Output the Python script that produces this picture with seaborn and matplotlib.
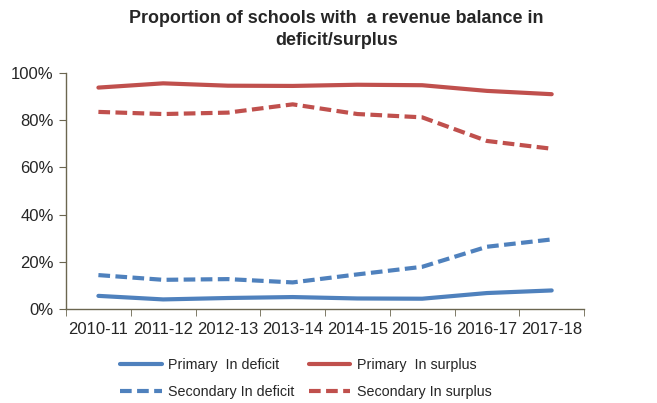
import pandas as pd
import matplotlib.pyplot as plt
import seaborn as sns

years = ["2010-11", "2011-12", "2012-13", "2013-14", "2014-15", "2015-16", "2016-17", "2017-18"]
primary_deficit = [5.6, 4.1, 4.7, 5.1, 4.5, 4.4, 6.8, 7.9]
primary_surplus = [93.8, 95.6, 94.6, 94.5, 95.0, 94.8, 92.4, 91.0]
secondary_deficit = [14.4, 12.4, 12.7, 11.3, 14.7, 17.9, 26.4, 29.5]
secondary_surplus = [83.5, 82.6, 83.2, 86.7, 82.6, 81.2, 71.2, 67.9]

series = {
    "Primary  In deficit": (primary_deficit, "#4F81BD", "solid"),
    "Primary  In surplus": (primary_surplus, "#C0504D", "solid"),
    "Secondary In deficit": (secondary_deficit, "#4F81BD", "dash"),
    "Secondary In surplus": (secondary_surplus, "#C0504D", "dash"),
}

sns.set_style("white")
plt.rcParams['font.family'] = ['Arial', 'Liberation Sans', 'DejaVu Sans']

fig = plt.figure(figsize=(6.57, 4.03), dpi=100)
ax = fig.add_axes([0.1005, 0.233, 0.7885, 0.586])

lines = {}
for name, (vals, color, style) in series.items():
    df = pd.DataFrame({'x': range(len(years)), 'y': vals})
    sns.lineplot(data=df, x='x', y='y', color=color, linewidth=3, ax=ax, label=name)
    line = ax.get_lines()[-1]
    if style == "dash":
        line.set_dashes((2.8, 1.3))
        line.set_dash_capstyle('butt')
    lines[name] = line

ax.set_xlim(-0.5, len(years) - 0.5)
ax.set_ylim(0, 100)
ax.set_yticks([0, 20, 40, 60, 80, 100])
ax.set_yticklabels([f"{v}%" for v in range(0, 101, 20)], fontsize=12)
ax.set_xticks(range(len(years)))
ax.set_xticklabels(years, fontsize=12)
ax.set_xticks([i - 0.5 for i in range(len(years) + 1)], minor=True)
ax.tick_params(axis='x', which='major', length=0, pad=9)
ax.tick_params(axis='x', which='minor', length=5, direction='out', color='#6b6650', bottom=True)
ax.tick_params(axis='y', length=5, direction='out', color='#6b6650', left=True, pad=4)
ax.set_xlabel("")
ax.set_ylabel("")
sns.despine(ax=ax)
for s in ['left', 'bottom']:
    ax.spines[s].set_color('#6b6650')
    ax.spines[s].set_linewidth(1)

fig.text(0.512, 0.975, "Proportion of schools with  a revenue balance in\ndeficit/surplus",
         fontsize=12.9, fontweight='bold', ha='center', va='top', linespacing=1.4)

ax.get_legend().remove()
order = ["Primary  In deficit", "Secondary In deficit", "Primary  In surplus", "Secondary In surplus"]
fig.legend([lines[k] for k in order], order, loc='upper left', bbox_to_anchor=(0.183, 0.112),
           ncol=2, frameon=False, fontsize=10.3, handlelength=2.9, columnspacing=1.0,
           handletextpad=0.45, labelspacing=0.9, borderpad=0, borderaxespad=0)

fig.savefig("out.png", dpi=100)
